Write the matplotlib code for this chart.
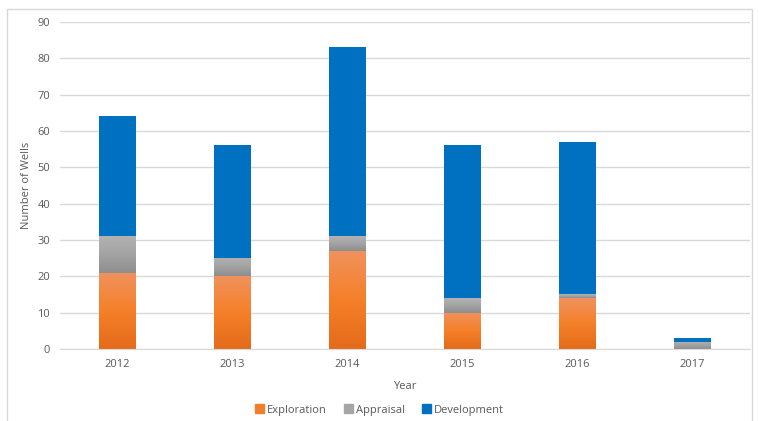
import numpy as np
import matplotlib.pyplot as plt
from matplotlib.colors import LinearSegmentedColormap
from matplotlib.patches import Patch, Rectangle

years = ["2012", "2013", "2014", "2015", "2016", "2017"]
exploration = [21, 20, 27, 10, 14, 0]
appraisal = [10, 5, 4, 4, 1, 2]
development = [33, 31, 52, 42, 42, 1]

plt.rcParams['font.family'] = ['Open Sans', 'DejaVu Sans']
txt = '#595959'

fig = plt.figure(figsize=(7.59, 4.21), dpi=100)
ax = fig.add_axes([0.079, 0.171, 0.909, 0.777])

orange_cm = LinearSegmentedColormap.from_list('o', ['#E46B1A', '#F58029', '#F0925E'])
grey_cm = LinearSegmentedColormap.from_list('g', ['#8E8E8E', '#A3A3A3', '#B2B2B2'])
grad = np.linspace(0, 1, 256).reshape(-1, 1)

w = 0.32
x = np.arange(len(years))
expl = np.array(exploration)
appr = np.array(appraisal)
dev = np.array(development)


def grad_bars(xs, heights, bottoms, cmap):
    bars = ax.bar(xs, heights, w, bottom=bottoms, color='none', edgecolor='none', zorder=2)
    for b in bars:
        if b.get_height() <= 0:
            continue
        x0, y0 = b.get_x(), b.get_y()
        im = ax.imshow(grad, cmap=cmap, origin='lower', aspect='auto',
                       extent=(x0, x0 + b.get_width(), y0, y0 + b.get_height()), zorder=2)
        im.set_clip_path(b)


grad_bars(x, expl, 0, orange_cm)
grad_bars(x, appr, expl, grey_cm)
ax.bar(x, dev, w, bottom=expl + appr, color='#0070C0', zorder=2)

ax.set_xlim(-0.5, 5.5)
ax.set_ylim(0, 90)
ax.set_yticks(range(0, 91, 10))
ax.set_xticks(x)
ax.set_xticklabels(years)
ax.grid(axis='y', color='#D9D9D9', linewidth=1, zorder=0)
ax.set_axisbelow(True)
for s in ['top', 'right', 'left']:
    ax.spines[s].set_visible(False)
ax.spines['bottom'].set_color('#D9D9D9')
ax.tick_params(length=0, labelsize=8, colors=txt, pad=7)
ax.set_xlabel('Year', fontsize=8, color=txt, labelpad=8)
ax.set_ylabel('Number of Wells', fontsize=8, color=txt, labelpad=4)

handles = [Patch(color='#F07F2C'), Patch(color='#A5A5A5'), Patch(color='#0070C0')]
fig.legend(handles, ['Exploration', 'Appraisal', 'Development'], loc='center',
           bbox_to_anchor=(0.5, 0.026), ncol=3, frameon=False, fontsize=8,
           labelcolor=txt, handlelength=0.8, handleheight=0.8, handletextpad=0.3,
           columnspacing=1.5)

fig.patches.append(Rectangle((7 / 759, -0.01), 745 / 759, 1 - 9 / 421 + 0.01,
                             transform=fig.transFigure, fill=False,
                             edgecolor='#D9D9D9', linewidth=1))

fig.savefig('out.png', dpi=100)
